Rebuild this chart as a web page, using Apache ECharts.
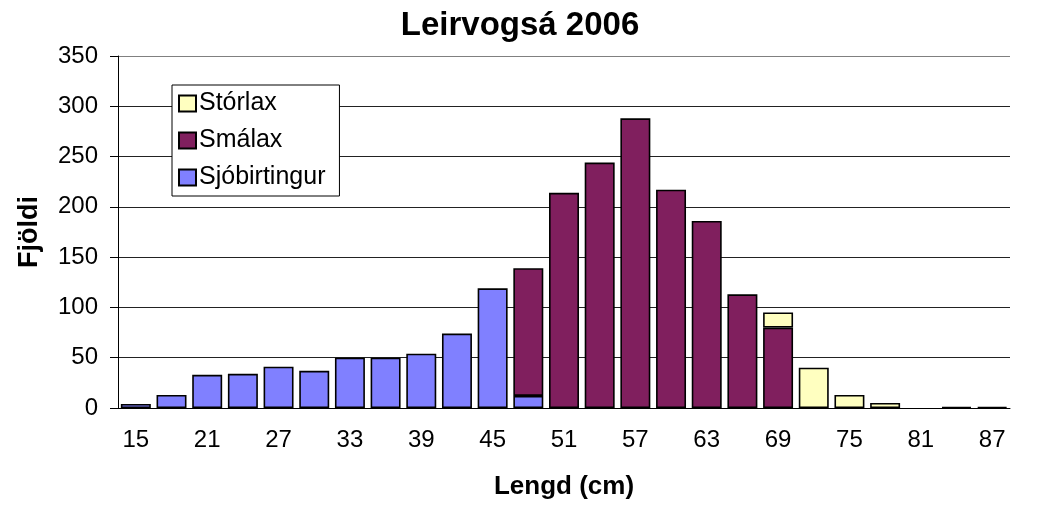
<!DOCTYPE html>
<html>
<head>
<meta charset="utf-8">
<script src="https://cdn.jsdelivr.net/npm/echarts@6/dist/echarts.min.js"></script>
<style>
  html, body { margin: 0; padding: 0; background: #fff; }
  #chart { width: 1040px; height: 515px; }
</style>
</head>
<body>
<div id="chart"></div>
<script>
// lengdarflokkar (cm)
const categories = ['15', '18', '21', '24', '27', '30', '33', '36', '39', '42', '45', '48', '51',
  '54', '57', '60', '63', '66', '69', '72', '75', '78', '81', '84', '87']

// fjöldi eftir tegund, lesið af myndinni
const sjobirtingur = [4, 13, 33, 34, 41, 37, 50, 50, 54, 74, 119, 12, null,
  null, null, null, null, null, null, null, null, null, null, null, null]
const smalax = [null, null, null, null, null, null, null, null, null, null, null, 127, 214,
  244, 288, 217, 186, 113, 80, null, null, null, null, null, null]
const storlax = [null, null, null, null, null, null, null, null, null, null, null, null, null,
  null, null, null, null, null, 15, 40, 13, 5, null, 1, 1]

const yTicks = [0, 50, 100, 150, 200, 250, 300, 350]

const font = 'Liberation Sans, Arial, sans-serif'

function barSeries(name, data, color) {
  return {
    name: name,
    type: 'bar',
    stack: 'total',
    data: data,
    barCategoryGap: '16%',
    itemStyle: {
      color: color,
      borderColor: '#000',
      borderWidth: 1.6
    }
  }
}

const option = {
  backgroundColor: '#fff',
  animation: false,
  title: {
    text: 'Leirvogsá 2006',
    left: 'center',
    top: 4,
    textStyle: { fontFamily: font, fontSize: 33, fontWeight: 'bold', color: '#000' }
  },
  legend: {
    orient: 'vertical',
    left: 172,
    top: 85,
    data: ['Stórlax', 'Smálax', 'Sjóbirtingur'],
    icon: 'rect',
    itemWidth: 17,
    itemHeight: 16,
    itemGap: 12,
    padding: [6, 14, 6, 6],
    borderColor: '#000',
    borderWidth: 1,
    backgroundColor: '#fff',
    textStyle: { fontFamily: font, fontSize: 25, color: '#000', padding: [0, 0, 0, -2] }
  },
  grid: { left: 118, right: 30, top: 56, bottom: 107 },
  xAxis: {
    type: 'category',
    data: categories,
    name: 'Lengd (cm)',
    nameLocation: 'middle',
    nameGap: 66,
    nameTextStyle: { fontFamily: font, fontSize: 26, fontWeight: 'bold', color: '#000' },
    axisLine: { lineStyle: { color: '#000', width: 1 } },
    axisTick: { interval: 0, length: 8, lineStyle: { color: '#000' } },
    axisLabel: { interval: 1, margin: 20, fontFamily: font, fontSize: 24, color: '#000' }
  },
  yAxis: {
    type: 'value',
    min: yTicks[0],
    max: yTicks[yTicks.length - 1],
    interval: 50,
    name: 'Fjöldi',
    nameLocation: 'middle',
    nameRotate: 90,
    nameGap: 75,
    nameTextStyle: { fontFamily: font, fontSize: 27, fontWeight: 'bold', color: '#000' },
    axisLine: { show: true, lineStyle: { color: '#000', width: 1 } },
    axisTick: { show: true, length: 8, lineStyle: { color: '#000' } },
    axisLabel: { margin: 20, fontFamily: font, fontSize: 24, color: '#000' },
    splitLine: {
      lineStyle: {
        color: ['#000', '#222', '#222', '#222', '#222', '#222', '#222', '#808080'],
        width: 1
      }
    }
  },
  series: [
    barSeries('Sjóbirtingur', sjobirtingur, '#8080ff'),
    barSeries('Smálax', smalax, '#801f5e'),
    barSeries('Stórlax', storlax, '#ffffc0')
  ]
}

const myChart = echarts.init(document.getElementById('chart'), null, { renderer: 'canvas' })
myChart.setOption(option)
</script>
</body>
</html>
